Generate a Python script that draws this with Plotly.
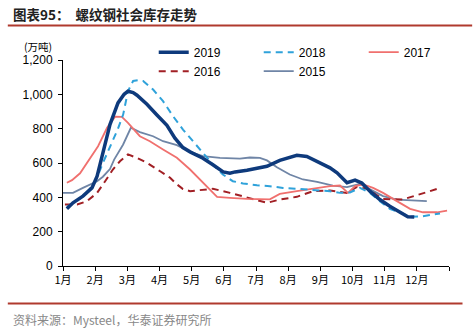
import plotly.graph_objects as go

# month position (1 = start of Jan) and inventory (万吨)
x2019 = [1.12,1.31,1.62,1.90,2.06,2.18,2.31,2.46,2.71,2.90,3.02,3.18,3.30,3.61,3.92,4.23,4.48,4.73,4.95,5.35,
         5.66,5.98,6.19,6.35,6.72,7.03,7.34,7.74,8.05,8.27,8.58,8.77,9.08,9.30,9.52,9.70,9.83,10.08,10.29,10.54,
         10.85,11.16,11.48,11.72,11.92]
y2019 = [333,368,407,455,523,620,718,824,950,1000,1018,1010,995,942,880,820,745,690,665,628,
         590,548,540,548,558,568,581,615,635,645,638,620,591,572,543,510,485,500,483,436,
         387,348,310,287,285]

x2018 = [1.12,1.44,1.75,2.00,2.24,2.55,2.71,2.87,3.02,3.18,3.33,3.49,3.80,4.11,4.42,4.73,5.04,5.35,5.66,5.97,
         6.28,6.60,7.03,7.43,7.84,8.27,8.77,9.30,9.61,9.92,10.23,10.54,10.85,11.16,11.48,11.79,12.19,12.50,12.72]
y2018 = [345,380,430,490,600,727,800,882,1018,1078,1082,1078,1028,960,873,795,727,659,591,533,
         494,481,470,465,455,450,442,436,426,428,455,426,378,333,310,287,290,300,306]

x2017 = [1.12,1.28,1.53,1.75,1.90,2.09,2.37,2.62,2.83,3.02,3.39,3.70,4.11,4.54,4.95,5.35,5.79,6.19,6.72,7.43,
         7.74,8.27,8.77,9.30,9.61,9.86,10.08,10.33,10.64,10.95,11.38,11.79,12.19,12.63,12.94]
y2017 = [485,500,540,600,640,698,805,870,869,834,756,727,679,630,562,485,403,397,391,388,
         420,436,450,465,469,426,465,475,455,426,378,333,313,313,323]

x2016 = [1.06,1.44,1.75,2.06,2.31,2.55,2.77,3.02,3.30,3.61,4.02,4.33,4.51,4.73,4.95,5.35,5.66,6.19,6.72,7.34,
         7.74,8.27,8.77,9.30,9.83,10.14,10.45,10.64,10.95,11.57,12.00,12.41,12.72]
y2016 = [358,358,378,426,494,562,610,650,630,601,552,514,480,448,436,446,450,426,400,368,
         387,403,436,440,426,461,450,426,390,388,411,436,455]

x2015 = [1.00,1.31,1.62,2.06,2.24,2.46,2.59,2.87,3.11,3.39,3.80,4.11,4.54,4.95,5.35,5.88,6.50,6.81,7.12,7.34,
         7.65,8.05,8.46,8.90,9.39,9.83,10.23,10.54,10.95,11.38,11.88,12.31]
y2015 = [426,426,455,494,520,565,620,708,805,780,756,727,704,665,640,630,626,632,630,615,
         575,533,504,490,468,460,478,446,407,387,383,378]

month_ticks = [1,2,3,4,5,6,7,8,9,10,11,12,13]
month_labels = ["1月","2月","3月","4月","5月","6月","7月","8月","9月","10月","11月","12月",""]
y_ticks = [0,200,400,600,800,1000,1200]

FONT = "Liberation Sans, Arial, Noto Sans CJK SC, sans-serif"
CJK = "Noto Sans CJK SC, sans-serif"

series = [
    ("2015", x2015, y2015, "#6F85A6", 1.8, "solid", 5),
    ("2016", x2016, y2016, "#A11F24", 2.0, "7px,5px", 4),
    ("2017", x2017, y2017, "#F0706E", 1.8, "solid", 3),
    ("2018", x2018, y2018, "#2FA2DA", 2.0, "7px,5px", 2),
    ("2019", x2019, y2019, "#0E3A7C", 3.5, "solid", 1),
]

fig = go.Figure()
for name, xs, ys, color, w, dash, rank in series:
    fig.add_trace(go.Scatter(x=xs, y=ys, mode="lines", name=name, legendrank=rank,
                             line=dict(color=color, width=w, dash=dash)))

fig.update_layout(
    width=473, height=336,
    margin=dict(l=63, r=24, t=60, b=70, autoexpand=False),
    paper_bgcolor="white", plot_bgcolor="white",
    font=dict(family=FONT, size=12, color="#000"),
    showlegend=True,
    legend=dict(orientation="h", xref="container", yref="container", x=0.325, y=0.888,
                xanchor="left", yanchor="top",
                entrywidth=60, font=dict(size=12, family=FONT), bgcolor="rgba(0,0,0,0)",
                tracegroupgap=0),
    xaxis=dict(range=[1, 13], tickmode="array", tickvals=month_ticks, ticktext=month_labels,
               showline=True, linecolor="#000", linewidth=1, ticks="outside", ticklen=4,
               tickcolor="#000", showgrid=False, zeroline=False,
               tickfont=dict(family=CJK, size=11)),
    yaxis=dict(range=[0, 1200], tickmode="array", tickvals=y_ticks, tickformat=",d",
               showline=True, linecolor="#000", linewidth=1, ticks="outside", ticklen=4,
               tickcolor="#000", showgrid=False, zeroline=False, tickfont=dict(size=12),
               ticklabelstandoff=3),
    shapes=[
        dict(type="line", xref="paper", yref="paper", x0=-0.143, x1=1.06, y0=1.167, y1=1.167,
             line=dict(color="#B03A2E", width=2)),
        dict(type="line", xref="paper", yref="paper", x0=-0.143, x1=1.035, y0=-0.182, y1=-0.182,
             line=dict(color="#B03A2E", width=2)),
    ],
    annotations=[
        dict(text="<b>图表95：  螺纹钢社会库存走势</b>", xref="paper", yref="paper",
             x=-0.135, y=1.222, xanchor="left", yanchor="middle", showarrow=False,
             font=dict(family=CJK, size=13.5, color="#222")),
        dict(text="(万吨)", xref="paper", yref="paper", x=-0.065, y=1.065,
             xanchor="center", yanchor="middle", showarrow=False,
             font=dict(family=CJK, size=10.5, color="#000")),
        dict(text="资料来源：Mysteel，华泰证券研究所", xref="paper", yref="paper",
             x=-0.135, y=-0.26, xanchor="left", yanchor="middle", showarrow=False,
             font=dict(family=CJK, size=12, color="#888")),
    ],
)

fig.write_html("out.html")
